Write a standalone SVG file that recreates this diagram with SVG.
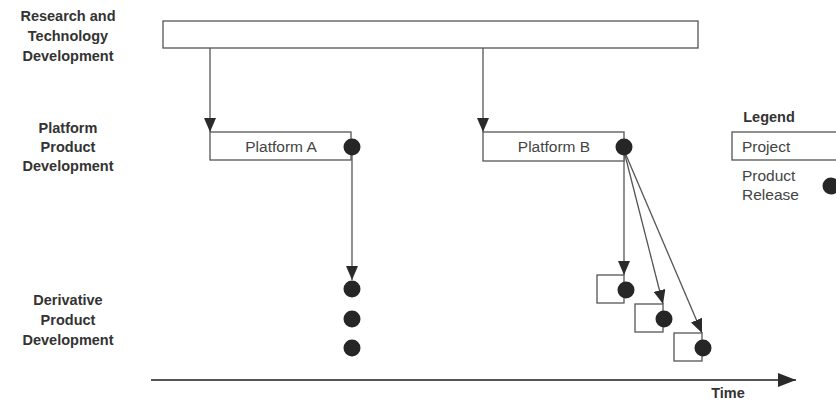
<svg xmlns="http://www.w3.org/2000/svg" width="836" height="400" viewBox="0 0 836 400">
  <style>
    .lbl { font-family: "Liberation Sans", Arial, sans-serif; font-weight: bold; font-size: 14.5px; fill: #333; text-anchor: middle; }
    .txt { font-family: "Liberation Sans", Arial, sans-serif; font-size: 15.5px; fill: #444; }
    .box { fill: #fff; stroke: #555; stroke-width: 1.3; }
    .dot { fill: #262626; }
    .con { stroke: #555; stroke-width: 1.3; fill: none; marker-end: url(#arrow); }
    .axis { stroke: #555; stroke-width: 1.8; fill: none; marker-end: url(#arrow-lg); }
  </style>
  <defs>
    <marker id="arrow" viewBox="0 0 14 12" refX="14" refY="6" markerWidth="14" markerHeight="12" markerUnits="userSpaceOnUse" orient="auto">
      <path d="M0,0 L14,6 L0,12 Z" fill="#2a2a2a"/>
    </marker>
    <marker id="arrow-lg" viewBox="0 0 18 14" refX="18" refY="7" markerWidth="18" markerHeight="14" markerUnits="userSpaceOnUse" orient="auto">
      <path d="M0,0 L18,7 L0,14 Z" fill="#2a2a2a"/>
    </marker>
  </defs>
  <rect width="836" height="400" fill="#fff"/>

  <!-- row labels -->
  <g id="row-labels">
    <text class="lbl" x="68" y="21">Research and</text>
    <text class="lbl" x="68" y="41">Technology</text>
    <text class="lbl" x="68" y="61">Development</text>
    <text class="lbl" x="68" y="133">Platform</text>
    <text class="lbl" x="68" y="152">Product</text>
    <text class="lbl" x="68" y="171">Development</text>
    <text class="lbl" x="68" y="305">Derivative</text>
    <text class="lbl" x="68" y="325">Product</text>
    <text class="lbl" x="68" y="345">Development</text>
  </g>

  <!-- connectors -->
  <g id="connectors">
    <line class="con" x1="210" y1="48" x2="210" y2="132"/>
    <line class="con" x1="483" y1="48" x2="483" y2="132"/>
    <line class="con" x1="352" y1="155" x2="352" y2="280"/>
    <line class="con" x1="624" y1="155" x2="624" y2="275"/>
    <line class="con" x1="625" y1="155" x2="663" y2="304"/>
    <line class="con" x1="626" y1="155" x2="702" y2="333"/>
    <line class="axis" x1="151" y1="380" x2="796" y2="380"/>
  </g>

  <g id="rtd">
    <rect class="box" x="163" y="21" width="535" height="27"/>
  </g>

  <g id="platform-a">
    <rect class="box" x="210" y="132" width="141" height="28"/>
    <text class="txt" x="281" y="152" text-anchor="middle">Platform A</text>
    <circle class="dot" cx="352" cy="147" r="8.5"/>
  </g>

  <g id="platform-b">
    <rect class="box" x="483" y="132" width="141" height="29"/>
    <text class="txt" x="554" y="152" text-anchor="middle">Platform B</text>
    <circle class="dot" cx="624" cy="147" r="8.5"/>
  </g>

  <g id="derivative-a">
    <circle class="dot" cx="352" cy="289" r="8.5"/>
    <circle class="dot" cx="352" cy="319" r="8.5"/>
    <circle class="dot" cx="352" cy="348" r="8.5"/>
  </g>

  <g id="derivative-b1">
    <rect class="box" x="597" y="275" width="27" height="28"/>
    <circle class="dot" cx="626" cy="290" r="8.5"/>
  </g>
  <g id="derivative-b2">
    <rect class="box" x="635" y="304" width="28" height="28"/>
    <circle class="dot" cx="664" cy="319" r="8.5"/>
  </g>
  <g id="derivative-b3">
    <rect class="box" x="674" y="333" width="28" height="28"/>
    <circle class="dot" cx="703" cy="348" r="8.5"/>
  </g>

  <g id="time-label">
    <text class="lbl" x="728" y="398">Time</text>
  </g>

  <g id="legend">
    <text class="lbl" x="769" y="122">Legend</text>
    <rect class="box" x="732" y="132" width="110" height="28"/>
    <text class="txt" x="742" y="152">Project</text>
    <text class="txt" x="742" y="181">Product</text>
    <text class="txt" x="742" y="200">Release</text>
    <circle class="dot" cx="831" cy="186" r="8.5"/>
  </g>
</svg>
